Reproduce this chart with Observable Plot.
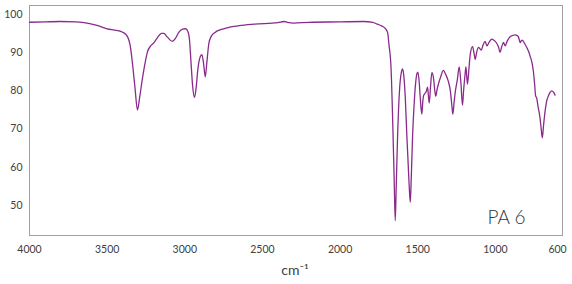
<!DOCTYPE html>
<html>
<head>
<meta charset="utf-8">
<script src="https://cdn.jsdelivr.net/npm/d3@7"></script>
<script src="https://cdn.jsdelivr.net/npm/@observablehq/plot@0.6"></script>
<style>
  html, body { margin: 0; padding: 0; background: #fff; }
  #chart svg { display: block; }
</style>
</head>
<body>
<div id="chart"></div>
<script>
const wavenumbers = [
  4000, 3900, 3800, 3700, 3620, 3560, 3500, 3440, 3400, 3370, 3350, 3335, 3320, 3305, 3290, 3272, 3255, 3240, 3220, 3200,
  3176, 3150, 3135, 3112, 3080, 3060, 3040, 3015, 2995, 2980, 2970, 2960, 2950, 2938, 2928, 2915, 2900, 2890, 2880, 2868,
  2858, 2845, 2830, 2810, 2750, 2650, 2550, 2400, 2360, 2340, 2300, 2200, 2000, 1850, 1790, 1760, 1730, 1710, 1694, 1685,
  1672, 1660, 1652, 1645, 1638, 1630, 1617, 1605, 1598, 1590, 1580, 1570, 1563, 1555, 1548, 1542, 1533, 1524, 1516, 1505,
  1499, 1490, 1484, 1474, 1468, 1463, 1455, 1446, 1437, 1432, 1426, 1418, 1409, 1399, 1390, 1384, 1375, 1367, 1350, 1335,
  1320, 1303, 1290, 1280, 1274, 1266, 1259, 1245, 1233, 1222, 1212, 1205, 1195, 1190, 1185, 1180, 1170, 1162, 1147, 1138,
  1130, 1120, 1109, 1100, 1091, 1080, 1066, 1055, 1040, 1023, 1010, 995, 980, 970, 960, 948, 937, 925, 905, 885,
  873, 860, 852, 845, 841, 830, 824, 810, 798, 785, 777, 765, 756, 748, 741, 734, 725, 713, 705, 698,
  690, 680, 670, 659, 648, 637, 625, 616
];
const transmittance = [
  98.0, 98.1, 98.2, 98.1, 97.7, 97.1, 96.3, 95.9, 95.4, 94.3, 91.5, 86.5, 80.5, 75.0, 78.5, 83.5, 87.5, 90.3, 91.8, 92.6,
  94.0, 95.1, 95.1, 94.1, 93.0, 93.8, 95.3, 96.2, 96.3, 95.6, 93.5, 87.5, 81.5, 78.3, 80.5, 86.0, 89.0, 89.5, 87.5, 83.7,
  87.5, 92.5, 94.3, 95.2, 96.3, 97.1, 97.5, 97.9, 98.2, 98.0, 97.8, 98.0, 98.1, 98.2, 98.0, 97.5, 97.0, 96.4, 95.3, 92.0,
  86.0, 70.0, 57.0, 46.0, 56.0, 68.0, 80.5, 85.0, 85.8, 84.0, 78.0, 68.0, 62.0, 55.0, 50.8, 57.0, 68.5, 76.0, 81.0, 84.6,
  84.9, 82.0, 78.3, 73.9, 77.0, 78.7, 79.3, 79.8, 81.0, 79.0, 76.8, 81.0, 84.8, 83.5, 80.0, 78.6, 80.5, 81.8, 84.0, 85.4,
  84.3, 82.5, 80.0, 76.0, 73.9, 77.0, 79.6, 83.0, 86.3, 82.0, 76.3, 80.0, 84.5, 86.3, 84.0, 81.8, 86.0, 89.6, 91.6, 90.0,
  88.3, 90.3, 91.4, 91.1, 90.7, 92.0, 93.0, 91.8, 92.8, 93.6, 93.3, 92.7, 91.5, 90.1, 91.5, 92.7, 91.8, 93.0, 94.2, 94.6,
  94.7, 94.5, 94.2, 93.2, 92.7, 93.3, 93.2, 92.3, 91.4, 90.2, 89.2, 87.5, 85.3, 82.0, 78.7, 78.1, 75.8, 73.0, 70.0, 67.7,
  71.0, 74.7, 77.3, 78.7, 79.6, 80.0, 79.6, 78.9
];
const xTicks = [4000, 3500, 3000, 2500, 2000, 1500, 1000, 600];
const yTicks = [50, 60, 70, 80, 90, 100];
const sampleName = "PA 6";
const xLabel = "cm⁻¹";

const data = wavenumbers.map((w, i) => ({w, t: transmittance[i]}));

const font = "'Lato', 'Open Sans', 'DejaVu Sans', sans-serif";

const chart = Plot.plot({
  width: 572,
  height: 284,
  marginLeft: 29,
  marginRight: 10,
  marginTop: 5,
  marginBottom: 49,
  style: {fontFamily: font, fontSize: "10.5px", color: "#404040", background: "#fff"},
  x: {domain: [4000, 568]},
  y: {domain: [42.1, 102.4]},
  marks: [
    Plot.frame({stroke: "#a0a0a0", strokeWidth: 1}),
    Plot.axisX({ticks: xTicks, tickSize: 0, tickPadding: 10, tickFormat: d => String(d), label: null, fill: "#404040"}),
    Plot.axisY({ticks: yTicks, tickSize: 0, tickPadding: 7, tickFormat: d => String(d), label: null, fill: "#404040"}),
    Plot.line(data, {x: "w", y: "t", stroke: "#8a2a8c", strokeWidth: 1.3, curve: "monotone-x"}),
    Plot.text([sampleName], {frameAnchor: "bottom-right", text: d => d, dx: -37, dy: -18, lineAnchor: "middle", textAnchor: "end", fontSize: 19, fill: "#333", fontWeight: 300, style: {letterSpacing: "1.5px"}}),
    Plot.text([xLabel], {frameAnchor: "bottom", text: d => d, dx: -1, dy: 35, lineAnchor: "middle", fontSize: 14, fill: "#404040"})
  ]
});
document.getElementById("chart").append(chart);
</script>
</body>
</html>
